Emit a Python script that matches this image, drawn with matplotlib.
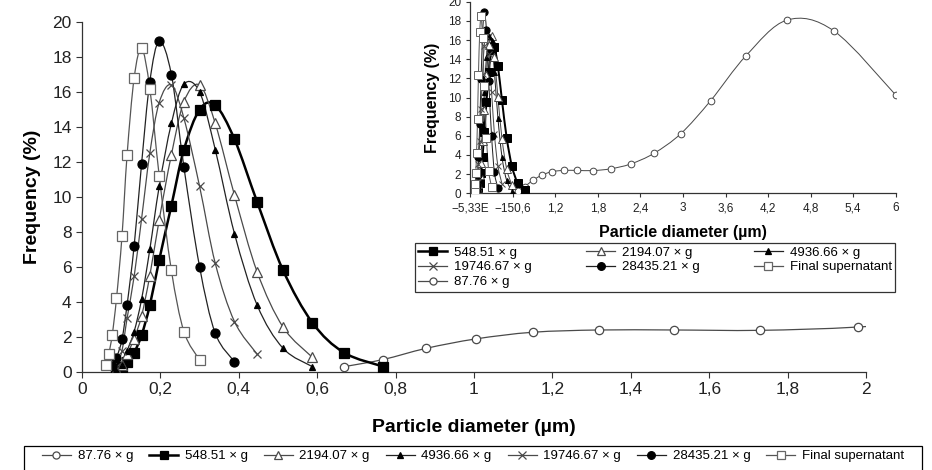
import numpy as np
import matplotlib.pyplot as plt
from matplotlib.path import Path
from matplotlib.patches import PathPatch, Rectangle
from matplotlib.lines import Line2D

plt.rcParams['font.family'] = ['Liberation Sans', 'DejaVu Sans']

# particle diameter (um) and frequency (%)
x_87 = [0.668, 0.768, 0.878, 1.005, 1.15, 1.319, 1.509, 1.73, 1.98, 2.26, 2.59,
        2.97, 3.39, 3.89, 4.47, 5.13, 6.0]
y_87 = [0.29, 0.7, 1.34, 1.88, 2.26, 2.39, 2.39, 2.37, 2.56, 3.06, 4.17,
        6.23, 9.67, 14.37, 18.09, 16.94, 10.26]

x_548 = [0.088, 0.102, 0.115, 0.133, 0.152, 0.173, 0.197, 0.228, 0.260, 0.300,
         0.340, 0.389, 0.447, 0.513, 0.588, 0.668, 0.768]
y_548 = [0.1, 0.3, 0.57, 1.1, 2.1, 3.8, 6.4, 9.5, 12.7, 15.0,
         15.25, 13.3, 9.7, 5.8, 2.8, 1.1, 0.3]

x_2194 = [0.088, 0.102, 0.115, 0.133, 0.152, 0.173, 0.197, 0.228, 0.260, 0.300,
          0.340, 0.389, 0.447, 0.513, 0.588]
y_2194 = [0.1, 0.4, 1.0, 1.9, 3.2, 5.5, 8.7, 12.4, 15.45, 16.4,
          14.2, 10.1, 5.7, 2.55, 0.82]

x_4936 = [0.088, 0.102, 0.115, 0.133, 0.152, 0.173, 0.197, 0.228, 0.260, 0.300,
          0.340, 0.389, 0.447, 0.513, 0.588]
y_4936 = [0.1, 0.4, 1.2, 2.3, 4.15, 7.0, 10.6, 14.2, 16.45, 16.0,
          12.7, 7.9, 3.8, 1.34, 0.29]

x_19746 = [0.088, 0.102, 0.115, 0.133, 0.152, 0.173, 0.197, 0.228, 0.260, 0.300,
           0.340, 0.389, 0.447]
y_19746 = [0.3, 1.2, 3.06, 5.45, 8.75, 12.5, 15.4, 16.4, 14.5, 10.6,
           6.2, 2.87, 1.0]

x_28435 = [0.077, 0.088, 0.102, 0.115, 0.133, 0.152, 0.173, 0.197, 0.228, 0.260,
           0.300, 0.340, 0.389]
y_28435 = [0.35, 0.8, 1.86, 3.83, 7.2, 11.9, 16.6, 18.9, 17.0, 11.7,
           6.0, 2.2, 0.57]

x_final = [0.060, 0.068, 0.077, 0.088, 0.102, 0.115, 0.133, 0.152, 0.173, 0.197,
           0.228, 0.260, 0.300]
y_final = [0.38, 1.0, 2.1, 4.2, 7.75, 12.4, 16.8, 18.5, 16.2, 11.2,
           5.8, 2.3, 0.67]

main_xticks = [0, 0.2, 0.4, 0.6, 0.8, 1.0, 1.2, 1.4, 1.6, 1.8, 2.0]
main_xlabels = ['0', '0,2', '0,4', '0,6', '0,8', '1', '1,2', '1,4', '1,6', '1,8', '2']
inset_xticks = [0, 0.6, 1.2, 1.8, 2.4, 3.0, 3.6, 4.2, 4.8, 5.4, 6.0]
inset_xlabels = ['\u22125,33E', '\u2212150,6', '1,2', '1,8', '2,4', '3', '3,6',
                 '4,2', '4,8', '5,4', '6']

GREY = '#4a4a4a'
series = [
    ('87.76 \u00d7 g', x_87, y_87, dict(marker='o', mfc='white', mec=GREY, color=GREY, lw=0.9, ms=6)),
    ('548.51 \u00d7 g', x_548, y_548, dict(marker='s', mfc='black', mec='black', color='black', lw=1.8, ms=6.5)),
    ('2194.07 \u00d7 g', x_2194, y_2194, dict(marker='^', mfc='white', mec=GREY, color=GREY, lw=0.9, ms=7)),
    ('4936.66 \u00d7 g', x_4936, y_4936, dict(marker='^', mfc='black', mec='black', color='#222222', lw=0.9, ms=4.5)),
    ('19746.67 \u00d7 g', x_19746, y_19746, dict(marker='x', mfc='none', mec=GREY, color=GREY, lw=0.9, ms=6, mew=0.9)),
    ('28435.21 \u00d7 g', x_28435, y_28435, dict(marker='o', mfc='black', mec='black', color='#222222', lw=0.9, ms=6.5)),
    ('Final supernatant', x_final, y_final, dict(marker='s', mfc='white', mec='#666666', color='#555555', lw=0.9, ms=6.5)),
]


def smooth_path(x, y):
    # Excel-style smoothed line: Catmull-Rom segments as cubic Bezier curves
    p = np.column_stack([x, y])
    verts = [p[0]]
    codes = [Path.MOVETO]
    n = len(p)
    for i in range(n - 1):
        p0 = p[i - 1] if i > 0 else p[i]
        p1, p2 = p[i], p[i + 1]
        p3 = p[i + 2] if i + 2 < n else p[i + 1]
        verts += [p1 + (p2 - p0) / 6, p2 - (p3 - p1) / 6, p2]
        codes += [Path.CURVE4] * 3
    return Path(verts, codes)


def draw(ax, x, y, st, scale=1.0):
    ax.add_patch(PathPatch(smooth_path(x, y), fill=False, edgecolor=st['color'],
                           lw=st['lw'] * scale, zorder=2))
    ax.plot(x, y, linestyle='none', marker=st['marker'], mfc=st['mfc'], mec=st['mec'],
            ms=st['ms'] * scale, mew=st.get('mew', 0.9) * scale, zorder=3)


def style_axes(ax, fs, ticklen):
    for s in ('top', 'right'):
        ax.spines[s].set_visible(False)
    for s in ('left', 'bottom'):
        ax.spines[s].set_color('#333333')
        ax.spines[s].set_linewidth(0.9)
    ax.tick_params(direction='out', length=ticklen, width=0.8, colors='#333333',
                   labelsize=fs, labelcolor='#222222')


fig = plt.figure(figsize=(9.32, 4.70), dpi=100)

ax = fig.add_axes([82 / 932, 0.209, 784 / 932, 0.744])
for name, x, y, st in series:
    draw(ax, x, y, st)
ax.set_xlim(0, 2)
ax.set_ylim(0, 20)
ax.set_xticks(main_xticks)
ax.set_xticklabels(main_xlabels)
ax.set_yticks(range(0, 21, 2))
style_axes(ax, 12.5, 4)
ax.set_xlabel('Particle diameter (\u00b5m)', fontsize=14, fontweight='bold', labelpad=16)
ax.set_ylabel('Frequency (%)', fontsize=14, fontweight='bold', labelpad=8)

ins = fig.add_axes([470.3 / 932, 0.5887, 425.4 / 932, 0.4077])
for name, x, y, st in series:
    draw(ins, x, y, st, scale=0.8)
ins.set_xlim(0, 6)
ins.set_ylim(0, 20)
ins.set_xticks(inset_xticks)
ins.set_xticklabels(inset_xlabels)
ins.set_yticks(range(0, 21, 2))
style_axes(ins, 8.5, 3)
ins.set_xlabel('Particle diameter (\u00b5m)', fontsize=11.5, fontweight='bold', labelpad=8)
ins.set_ylabel('Frequency (%)', fontsize=11.5, fontweight='bold', labelpad=6)


def handle(st):
    return Line2D([], [], color=st['color'], lw=st['lw'], marker=st['marker'],
                  mfc=st['mfc'], mec=st['mec'], ms=st['ms'] * 0.85, mew=st.get('mew', 0.9))


handles = [handle(st) for _, _, _, st in series]
labels = [name for name, _, _, _ in series]

# bottom legend: box drawn separately so the entries sit inset from its edges
fig.patches.append(Rectangle((24 / 932, -2 / 470), 898 / 932, 26 / 470,
                             transform=fig.transFigure, fill=False,
                             edgecolor='black', lw=0.9))
leg = fig.legend(handles, labels, loc='upper left', ncol=7, mode='expand',
                 bbox_to_anchor=(38 / 932, 0, 870 / 932, 24 / 470),
                 fontsize=9.5, frameon=False, borderpad=0.3, handlelength=2.2,
                 handletextpad=0.5, borderaxespad=0)

# inset legend, laid out row by row in 3 columns
order = [1, 4, 0, 2, 5, 3, 6]
leg2 = fig.legend([handles[i] for i in order], [labels[i] for i in order],
                  loc='upper left', ncol=3, mode='expand',
                  bbox_to_anchor=(415 / 932, 0, 480 / 932, 227 / 470),
                  fontsize=9.5, frameon=True, fancybox=False, edgecolor='black',
                  borderpad=0.25, labelspacing=0.2, handlelength=2.2,
                  handletextpad=0.5, borderaxespad=0)
leg2.get_frame().set_linewidth(0.9)

fig.savefig('out.png', dpi=100)
